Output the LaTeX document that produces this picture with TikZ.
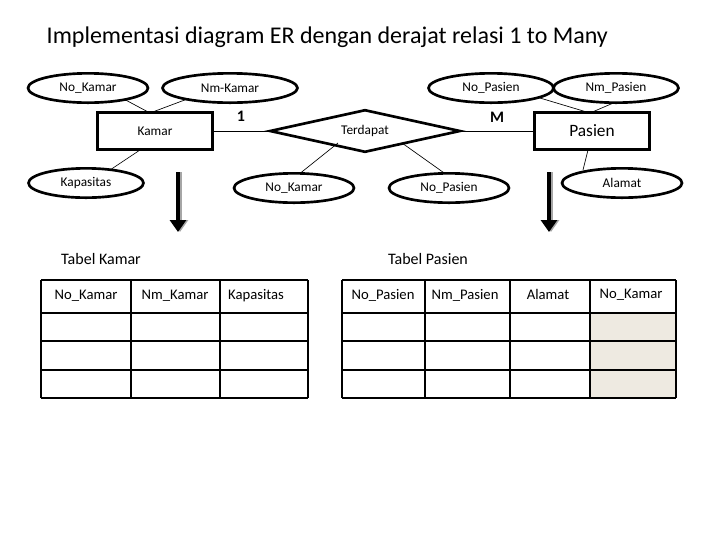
\documentclass[tikz,border=0pt]{standalone}
\usepackage{fontspec}
\setmainfont{Carlito}
\usetikzlibrary{shapes.geometric,arrows.meta}
\definecolor{fk}{HTML}{EEEAE1}
\begin{document}
\begin{tikzpicture}[x=0.75pt,y=-0.75pt,
  attr/.style={ellipse,draw,line width=2pt,fill=white,minimum width=#1*0.75pt,minimum height=22pt,inner sep=0pt,font=\fontsize{10}{12}\selectfont},
  attr/.default=120,
  ent/.style={draw,line width=2pt,minimum width=86pt,minimum height=28pt,inner sep=0pt},
  ln/.style={line width=0.5pt},
  cell/.style={draw,line width=0.8pt},
  hd/.style={font=\fontsize{11}{13}\selectfont},
  down/.style={line width=3pt,-{Triangle[length=9pt,width=12pt]},draw=black}]
\useasboundingbox (0,0) rectangle (720,540);
\node[anchor=west,font=\fontsize{18}{21}\selectfont] (title) at (42,37) {Implementasi diagram ER dengan derajat relasi 1 to Many};
% entities
\node[ent,font=\fontsize{10}{12}\selectfont] (kamar) at (155,131) {Kamar};
\node[ent,font=\fontsize{13}{15}\selectfont] (pasien) at (592,131) {Pasien};
\node[diamond,draw,line width=2pt,aspect=4.5,minimum width=143pt,minimum height=32pt,inner sep=0pt,font=\fontsize{10}{12}\selectfont] (rel) at (365,131) {\raisebox{-3pt}{Terdapat}};
% attribute lines first
\coordinate (ktop) at (150,113);
\coordinate (kbot) at (140,150);
\coordinate (ptop) at (590,113);
\coordinate (pbot) at (588,150);
\draw[ln] (kamar.east) -- (rel.west);
\draw[ln] (rel.east) -- (pasien.west);
\draw[ln] (120,97) -- (ktop);
\draw[ln] (190,98) -- (ktop);
\draw[ln] (110,170) -- (kbot);
\draw[ln] (540,98) -- (ptop);
\draw[ln] (625,98) -- (ptop);
\draw[ln] (583,170) -- (pbot);
\draw[ln] (338,143) -- (298,175);
\draw[ln] (402,143) -- (447,175);
% attributes
\node[attr] (a1) at (88,88) {No\_Kamar};
\node[attr=135] (a2) at (230,88) {Nm-Kamar};
\node[attr=125] (a3) at (491,88) {No\_Pasien};
\node[attr=125] (a4) at (616,88) {Nm\_Pasien};
\node[attr=115] (a5) at (86,183) {Kapasitas};
\node[attr=120] (a6) at (294,188) {No\_Kamar};
\node[attr=120] (a7) at (449,188) {No\_Pasien};
\node[attr=120] (a8) at (622,183) {Alamat};
\node[font=\bfseries\fontsize{12}{14}\selectfont] (one) at (241,116) {1};
\node[font=\bfseries\fontsize{12}{14}\selectfont] (many) at (497,117) {M};
% arrows
\coordinate (s1) at (178,172); \coordinate (e1) at (178,232);
\coordinate (s2) at (549,172); \coordinate (e2) at (549,232);
\draw[down,draw=gray!70,transform canvas={xshift=1.5pt}] (s1) -- (e1);
\draw[down] (s1) -- (e1);
\draw[down,draw=gray!70,transform canvas={xshift=1.5pt}] (s2) -- (e2);
\draw[down] (s2) -- (e2);
% table titles
\node[font=\fontsize{12}{14}\selectfont] (t1) at (101,259) {Tabel Kamar};
\node[font=\fontsize{12}{14}\selectfont] (t2) at (428,259) {Tabel Pasien};
% tables
\fill[fk] (590,313) rectangle (676,398);
\foreach \y in {280,313,341,370,398} {\draw[cell] (41,\y) -- (308,\y); \draw[cell] (342,\y) -- (676,\y);}
\foreach \x in {41,131,220,308} \draw[cell] (\x,280) -- (\x,398);
\foreach \x in {342,425,510,590,676} \draw[cell] (\x,280) -- (\x,398);
\node[hd] (h1) at (86,296) {No\_Kamar};
\node[hd] (h2) at (175,296) {Nm\_Kamar};
\node[hd] (h3) at (256,296) {Kapasitas};
\node[hd] (h4) at (383,295) {No\_Pasien};
\node[hd] (h5) at (465,295) {Nm\_Pasien};
\node[hd] (h6) at (548,294) {Alamat};
\node[hd] (h7) at (631,295) {No\_Kamar};
\end{tikzpicture}
\end{document}
